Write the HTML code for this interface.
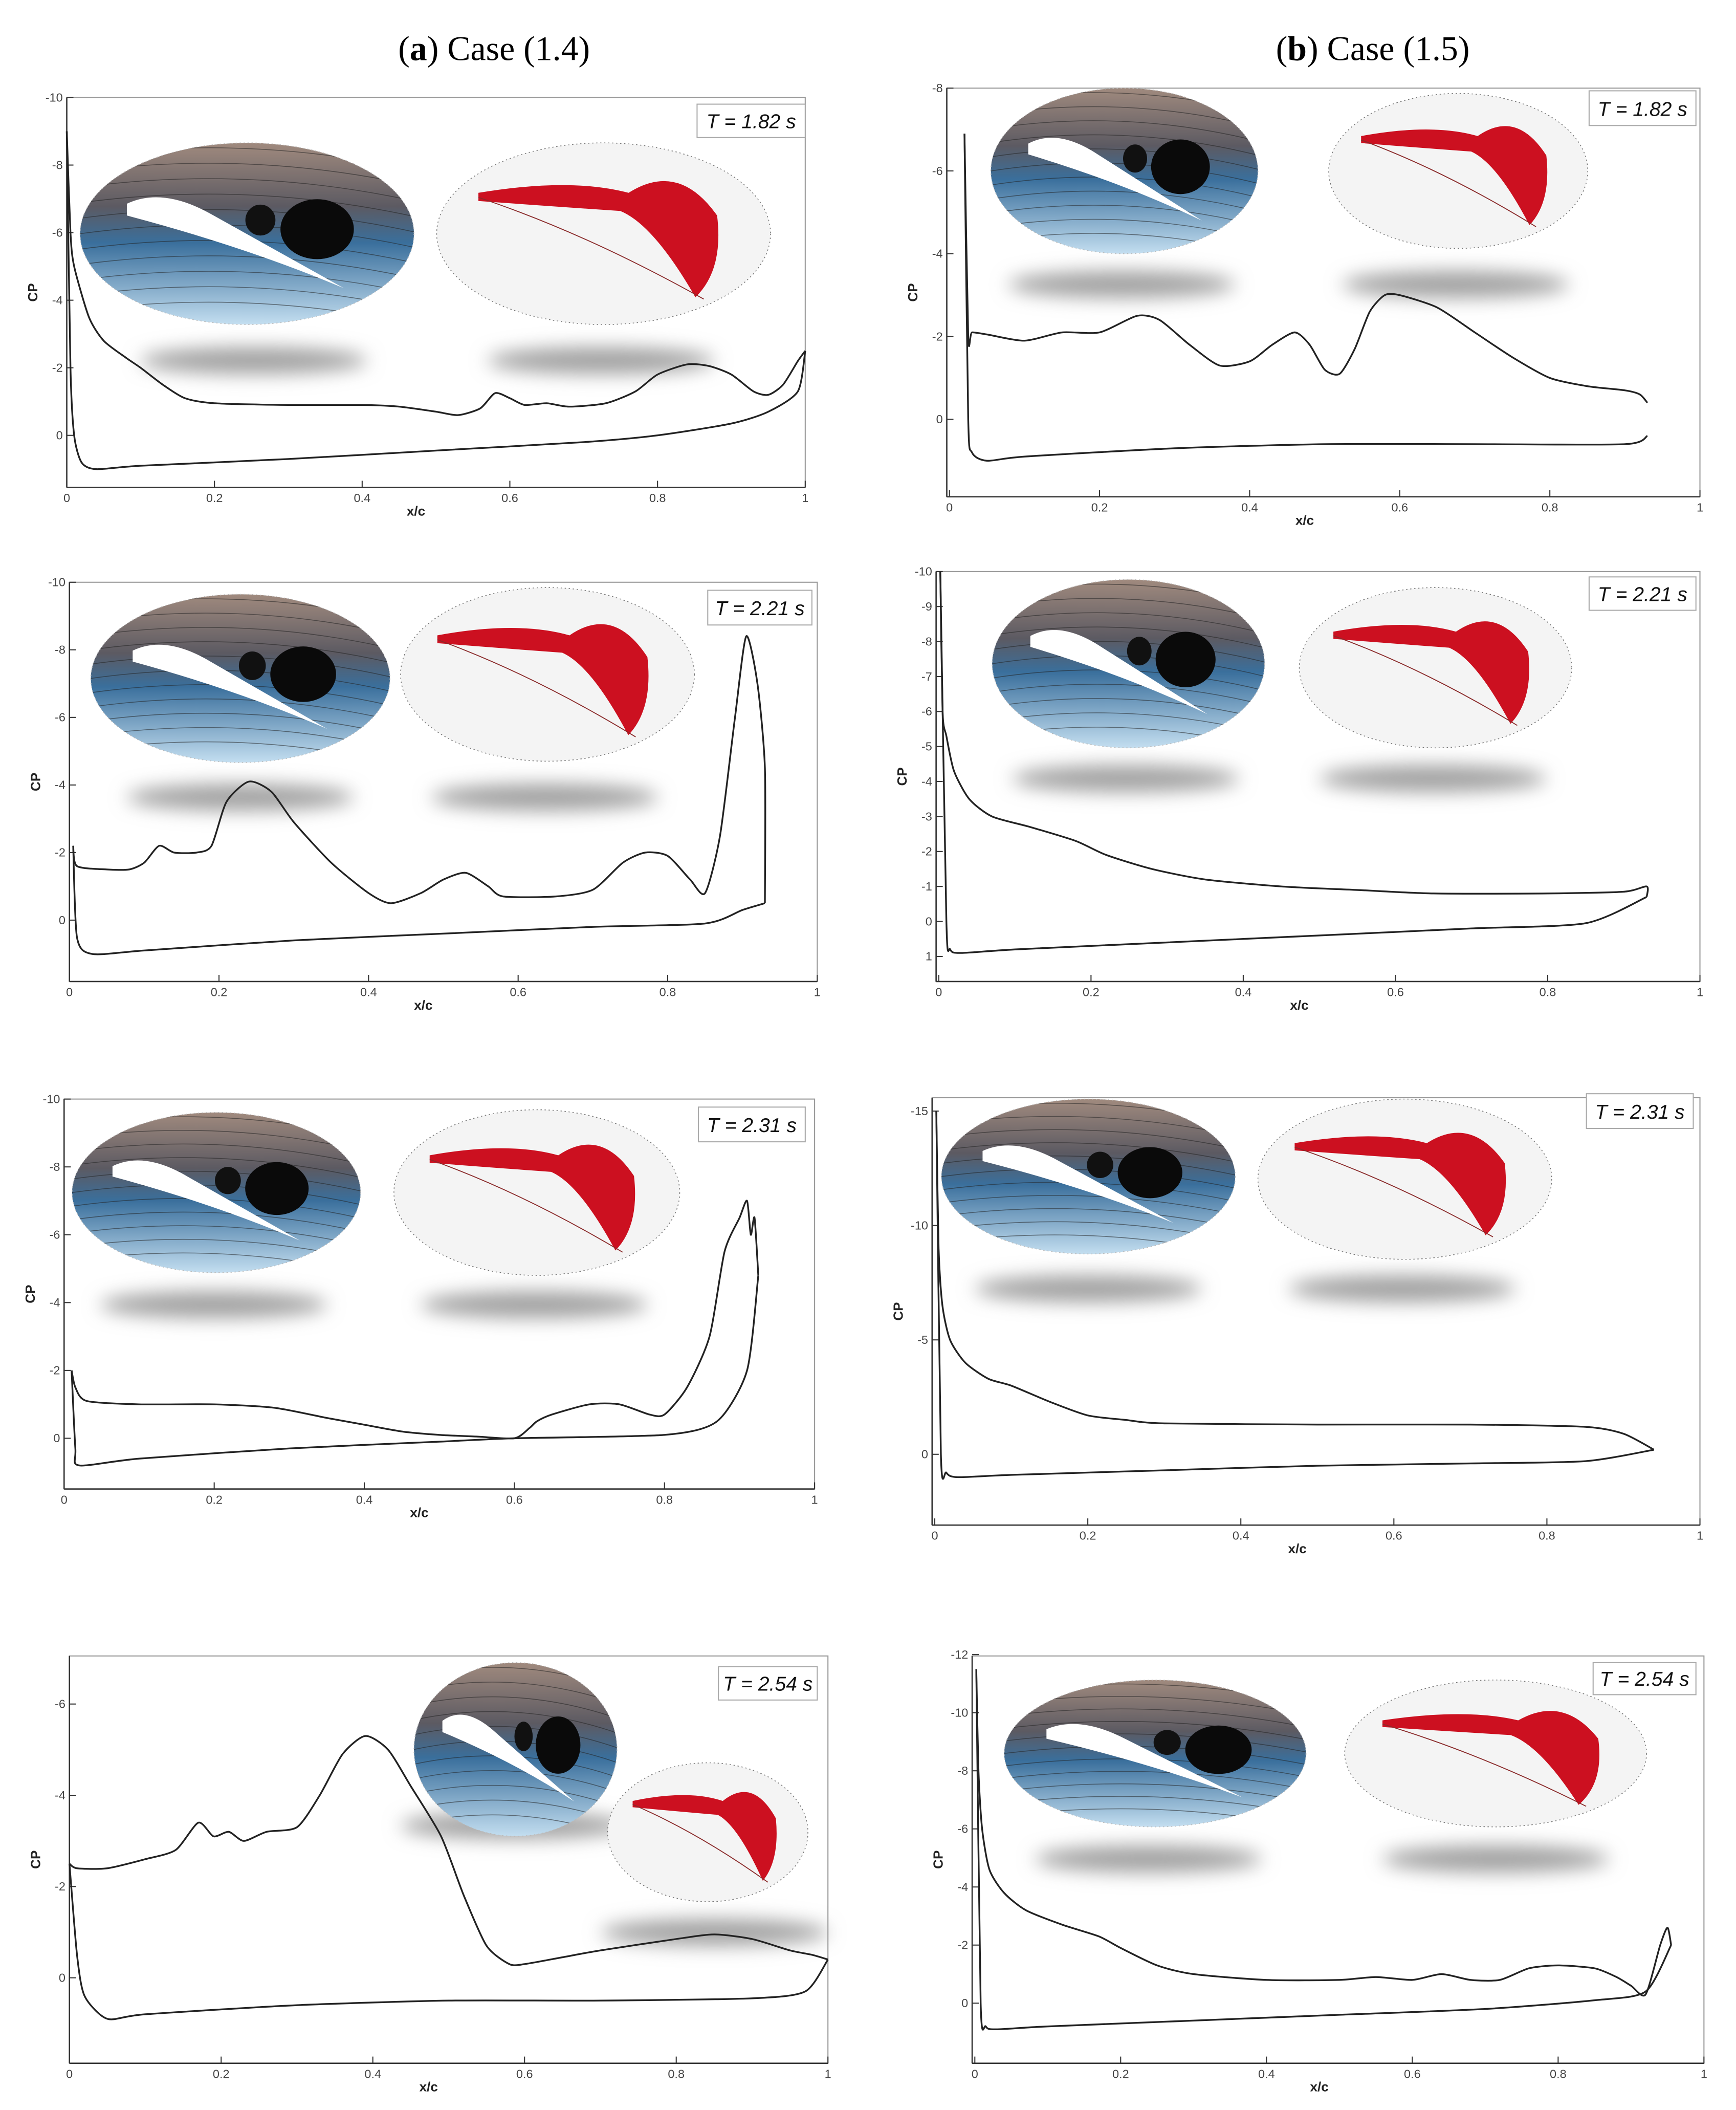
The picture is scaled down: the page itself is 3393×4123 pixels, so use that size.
<!DOCTYPE html>
<html><head><meta charset="utf-8"><style>
html,body{margin:0;padding:0;background:#fff;}
svg{display:block;}
text{font-family:"Liberation Sans",sans-serif;}
</style></head><body>
<svg id="fig" width="3393" height="4123" viewBox="0 0 1300 1580" preserveAspectRatio="none" xmlns="http://www.w3.org/2000/svg">
<defs>
<filter id="blur" x="-50%" y="-100%" width="200%" height="300%"><feGaussianBlur stdDeviation="7"/></filter>
<linearGradient id="flowGrad" x1="0" y1="0" x2="0" y2="1">
<stop offset="0" stop-color="#a08a7e"/><stop offset="0.35" stop-color="#5c5a62"/><stop offset="0.55" stop-color="#3a6f9c"/><stop offset="1" stop-color="#c3def0"/></linearGradient>
</defs>
<text x="370" y="45" font-size="26" text-anchor="middle" style="font-family:'Liberation Serif',serif">(<tspan font-weight="bold">a</tspan>) Case (1.4)</text>
<text x="1028" y="45" font-size="26" text-anchor="middle" style="font-family:'Liberation Serif',serif">(<tspan font-weight="bold">b</tspan>) Case (1.5)</text>
</svg>
<script>
// ---- data arrays: [x/c, Cp] ----
const a1Upper=[[0,-9],[0.005,-6],[0.01,-5],[0.03,-3.5],[0.05,-2.8],[0.08,-2.3],[0.1,-2.0],[0.13,-1.5],[0.16,-1.1],[0.2,-0.95],[0.3,-0.9],[0.4,-0.9],[0.45,-0.85],[0.5,-0.7],[0.53,-0.6],[0.56,-0.8],[0.58,-1.25],[0.6,-1.1],[0.62,-0.9],[0.65,-0.95],[0.68,-0.85],[0.73,-0.95],[0.77,-1.3],[0.8,-1.8],[0.84,-2.1],[0.87,-2.05],[0.9,-1.8],[0.93,-1.3],[0.95,-1.2],[0.97,-1.5],[0.99,-2.2],[1.0,-2.5]];
const a1Lower=[[0,-9],[0.005,-2],[0.01,0],[0.02,0.8],[0.04,1.0],[0.1,0.9],[0.3,0.7],[0.5,0.45],[0.7,0.2],[0.8,0],[0.9,-0.35],[0.95,-0.7],[0.99,-1.3],[1.0,-2.5]];
const b1Upper=[[0.02,-6.9],[0.025,-2.0],[0.03,-2.1],[0.05,-2.05],[0.1,-1.9],[0.15,-2.1],[0.2,-2.1],[0.25,-2.5],[0.28,-2.4],[0.32,-1.8],[0.36,-1.3],[0.4,-1.4],[0.43,-1.8],[0.46,-2.1],[0.48,-1.8],[0.5,-1.2],[0.52,-1.1],[0.54,-1.7],[0.56,-2.6],[0.58,-3.0],[0.6,-3.0],[0.65,-2.7],[0.7,-2.1],[0.75,-1.5],[0.8,-1.0],[0.85,-0.8],[0.9,-0.7],[0.92,-0.6],[0.93,-0.4]];
const b1Lower=[[0.02,-6.9],[0.025,0],[0.03,0.8],[0.05,1.0],[0.1,0.9],[0.3,0.7],[0.5,0.6],[0.7,0.6],[0.9,0.6],[0.93,0.4]];
const a2Upper=[[0.005,-2.2],[0.01,-1.6],[0.05,-1.5],[0.08,-1.5],[0.1,-1.7],[0.12,-2.2],[0.14,-2.0],[0.17,-2.0],[0.19,-2.2],[0.21,-3.5],[0.24,-4.1],[0.27,-3.8],[0.3,-2.9],[0.35,-1.7],[0.4,-0.8],[0.43,-0.5],[0.47,-0.8],[0.5,-1.2],[0.53,-1.4],[0.56,-1.0],[0.58,-0.7],[0.65,-0.7],[0.7,-0.9],[0.74,-1.7],[0.77,-2.0],[0.8,-1.9],[0.83,-1.2],[0.85,-0.8],[0.87,-2.5],[0.89,-6],[0.905,-8.4],[0.92,-7],[0.93,-4.5],[0.93,-0.5]];
const a2Lower=[[0.005,-2.2],[0.01,0.5],[0.03,1.0],[0.1,0.9],[0.3,0.6],[0.5,0.4],[0.7,0.2],[0.85,0.1],[0.9,-0.3],[0.93,-0.5]];
const b2Upper=[[0.002,-10],[0.005,-6],[0.01,-5.3],[0.02,-4.3],[0.04,-3.5],[0.07,-3.0],[0.12,-2.7],[0.18,-2.3],[0.22,-1.9],[0.28,-1.5],[0.35,-1.2],[0.45,-1.0],[0.55,-0.9],[0.65,-0.8],[0.8,-0.8],[0.9,-0.85],[0.93,-1.0],[0.93,-0.7]];
const b2Lower=[[0.002,-10],[0.01,0],[0.015,0.8],[0.03,0.9],[0.1,0.8],[0.3,0.6],[0.5,0.4],[0.7,0.2],[0.85,0.05],[0.93,-0.7]];
const a3Upper=[[0.01,-2.0],[0.015,-1.5],[0.03,-1.1],[0.1,-1.0],[0.2,-1.0],[0.28,-0.9],[0.35,-0.6],[0.4,-0.4],[0.45,-0.2],[0.5,-0.1],[0.55,-0.05],[0.6,0.0],[0.62,-0.3],[0.63,-0.5],[0.65,-0.7],[0.7,-1.0],[0.74,-1.0],[0.78,-0.7],[0.8,-0.7],[0.83,-1.5],[0.86,-3],[0.88,-5.5],[0.9,-6.5],[0.91,-7.0],[0.915,-6.0],[0.92,-6.5],[0.925,-4.8]];
const a3Lower=[[0.01,-2.0],[0.015,0.3],[0.02,0.8],[0.1,0.6],[0.3,0.3],[0.5,0.1],[0.6,0.0],[0.8,-0.1],[0.87,-0.5],[0.91,-2],[0.925,-4.8]];
const b3Upper=[[0.002,-15],[0.005,-9],[0.01,-6.5],[0.02,-5.0],[0.04,-4.0],[0.07,-3.3],[0.1,-3.0],[0.15,-2.3],[0.2,-1.7],[0.25,-1.5],[0.3,-1.35],[0.5,-1.3],[0.7,-1.3],[0.85,-1.2],[0.9,-0.9],[0.94,-0.2]];
const b3Lower=[[0.002,-15],[0.008,0],[0.015,0.8],[0.03,1.0],[0.1,0.9],[0.3,0.7],[0.5,0.5],[0.7,0.4],[0.85,0.3],[0.94,-0.2]];
const a4Upper=[[0.0,-2.5],[0.01,-2.4],[0.05,-2.4],[0.1,-2.6],[0.14,-2.8],[0.17,-3.4],[0.19,-3.1],[0.21,-3.2],[0.23,-3.0],[0.26,-3.2],[0.3,-3.3],[0.33,-4.0],[0.36,-4.9],[0.39,-5.3],[0.42,-5.0],[0.45,-4.2],[0.49,-3.1],[0.52,-1.8],[0.55,-0.7],[0.58,-0.3],[0.6,-0.3],[0.65,-0.45],[0.7,-0.6],[0.8,-0.85],[0.85,-0.95],[0.9,-0.85],[0.95,-0.6],[0.98,-0.5],[1.0,-0.4]];
const a4Lower=[[0.0,-2.5],[0.01,-0.5],[0.02,0.4],[0.05,0.9],[0.1,0.8],[0.3,0.6],[0.5,0.5],[0.7,0.5],[0.9,0.45],[0.97,0.3],[1.0,-0.4]];
const b4Upper=[[0.002,-11.5],[0.005,-8],[0.01,-6],[0.02,-4.6],[0.04,-3.8],[0.07,-3.2],[0.12,-2.7],[0.17,-2.3],[0.2,-1.9],[0.25,-1.3],[0.3,-1.0],[0.4,-0.8],[0.5,-0.8],[0.55,-0.9],[0.6,-0.8],[0.64,-1.0],[0.68,-0.8],[0.72,-0.8],[0.76,-1.2],[0.8,-1.3],[0.85,-1.2],[0.88,-0.9],[0.9,-0.6],[0.92,-0.3],[0.94,-2.0],[0.95,-2.6],[0.955,-2.0]];
const b4Lower=[[0.002,-11.5],[0.008,0],[0.015,0.8],[0.03,0.9],[0.1,0.8],[0.3,0.6],[0.5,0.4],[0.7,0.2],[0.85,-0.1],[0.92,-0.4],[0.955,-2.0]];
const xTicks=[0,0.2,0.4,0.6,0.8,1];
const yTicksA=[-10,-8,-6,-4,-2,0];
const yTicksB1=[-8,-6,-4,-2,0];
const yTicksB2=[-10,-9,-8,-7,-6,-5,-4,-3,-2,-1,0,1];
const yTicksB3=[-15,-10,-5,0];
const yTicksA4=[-6,-4,-2,0];
const yTicksB4=[-12,-10,-8,-6,-4,-2,0];
const timeLabels=["1.82","2.21","2.31","2.54"];

const NS="http://www.w3.org/2000/svg";
const svg=document.getElementById('fig');
function mk(tag,attrs,parent){const e=document.createElementNS(NS,tag);for(const k in attrs)e.setAttribute(k,attrs[k]);(parent||svg).appendChild(e);return e;}
function smooth(pts){
 let d='M'+pts[0][0].toFixed(2)+' '+pts[0][1].toFixed(2);
 const k=0.12;
 for(let i=0;i<pts.length-1;i++){
  const p0=pts[Math.max(i-1,0)],p1=pts[i],p2=pts[i+1],p3=pts[Math.min(i+2,pts.length-1)];
  const c1=[p1[0]+(p2[0]-p0[0])*k,p1[1]+(p2[1]-p0[1])*k];
  const c2=[p2[0]-(p3[0]-p1[0])*k,p2[1]-(p3[1]-p1[1])*k];
  d+=` C${c1[0].toFixed(2)} ${c1[1].toFixed(2)} ${c2[0].toFixed(2)} ${c2[1].toFixed(2)} ${p2[0].toFixed(2)} ${p2[1].toFixed(2)}`;
 }
 return d;
}

const panels=[
 {id:'a1',x0:50,x1:603,top:73,bot:365,ry0:326,ryU:-10,ryY:73,yt:yTicksA,up:a1Upper,lo:a1Lower,t:0,L:[185,175,125,68],R:[452,175,125,68],S1:[190,270],S2:[450,270],tb:[522,78,81,25]},
 {id:'b1',x0:711,x1:1273,top:66,bot:372,ry0:314,ryU:-8,ryY:66,yt:yTicksB1,up:b1Upper,lo:b1Lower,t:0,L:[842,128,100,62],R:[1092,128,97,58],S1:[840,213],S2:[1090,213],tb:[1190,68,80,26]},
 {id:'a2',x0:52,x1:612,top:436,bot:735,ry0:689,ryU:-10,ryY:436,yt:yTicksA,up:a2Upper,lo:a2Lower,t:1,L:[180,508,112,63],R:[410,505,110,65],S1:[180,597],S2:[408,597],tb:[530,442,78,26]},
 {id:'b2',x0:703,x1:1273,top:428,bot:735,ry0:690,ryU:-10,ryY:428,yt:yTicksB2,up:b2Upper,lo:b2Lower,t:1,L:[845,497,102,63],R:[1075,500,102,60],S1:[843,583],S2:[1073,583],tb:[1190,432,80,25]},
 {id:'a3',x0:48,x1:610,top:823,bot:1115,ry0:1077,ryU:-10,ryY:823,yt:yTicksA,up:a3Upper,lo:a3Lower,t:2,L:[162,893,108,60],R:[402,893,107,62],S1:[160,977],S2:[400,977],tb:[523,829,80,26]},
 {id:'b3',x0:700,x1:1273,top:822,bot:1142,ry0:1089,ryU:-15,ryY:832,yt:yTicksB3,up:b3Upper,lo:b3Lower,t:2,L:[815,881,110,58],R:[1052,883,110,60],S1:[815,965],S2:[1050,965],tb:[1188,819,80,26]},
 {id:'a4',x0:52,x1:620,top:1240,bot:1545,ry0:1481,ryU:-6,ryY:1276,yt:yTicksA4,up:a4Upper,lo:a4Lower,t:3,L:[386,1310,76,65],R:[530,1372,75,52],S1:[385,1367],S2:[535,1447],tb:[538,1248,74,25]},
 {id:'b4',x0:730,x1:1276,top:1240,bot:1545,ry0:1500,ryU:-12,ryY:1239,yt:yTicksB4,up:b4Upper,lo:b4Lower,t:3,L:[865,1313,113,55],R:[1120,1313,113,55],S1:[860,1392],S2:[1120,1392],tb:[1193,1245,77,24]}
];

panels.forEach(p=>{
 const g=mk('g',{});
 
 
 const fx=p.id[0]==='b'?Math.max(p.x0-2,0):p.x0;
 const X=v=>p.x0+v*(p.x1-p.x0);
 const Y=v=>p.ry0+(v/p.ryU)*(p.ryY-p.ry0);
 const fr=mk('rect',{x:fx,y:p.top,width:p.x1-fx,height:p.bot-p.top,fill:'none',stroke:'#999','stroke-width':0.8},g);
 
 
 mk('line',{x1:fx,y1:p.top,x2:fx,y2:p.bot,stroke:'#333','stroke-width':1},g);
 mk('line',{x1:fx,y1:p.bot,x2:p.x1,y2:p.bot,stroke:'#333','stroke-width':1},g);
 [p.S1,p.S2].forEach(s=>{
  const sh=mk('ellipse',{cx:s[0],cy:s[1],rx:85,ry:10,fill:'#a0a0a0',filter:'url(#blur)'},g);
  
  
 });
 const [lx,ly,lrx,lry]=p.L;
 const le=mk('ellipse',{cx:lx,cy:ly,rx:lrx,ry:lry,fill:'url(#flowGrad)',stroke:'#bbb','stroke-width':0.6,'stroke-dasharray':'1 2'},g);
 
 
 const cp=mk('clipPath',{id:'clip-'+p.id},g);
 mk('ellipse',{cx:lx,cy:ly,rx:lrx,ry:lry},cp);
 const lg=mk('g',{'clip-path':`url(#clip-${p.id})`},g);
 for(let i=-5;i<=5;i++){
  mk('path',{d:`M${lx-lrx} ${ly+i*lry*0.17} Q${lx} ${ly+i*lry*0.17-lry*0.25} ${lx+lrx} ${ly+i*lry*0.17+lry*0.15}`,stroke:'#222','stroke-width':0.6,fill:'none',opacity:0.55},lg);
 }
 mk('ellipse',{cx:lx+lrx*0.42,cy:ly-lry*0.05,rx:lrx*0.22,ry:lry*0.33,fill:'#0a0a0a'},lg);
 mk('ellipse',{cx:lx+lrx*0.08,cy:ly-lry*0.15,rx:lrx*0.09,ry:lry*0.17,fill:'#111'},lg);
 mk('path',{d:`M${lx-lrx*0.72} ${ly-lry*0.33} Q${lx-lrx*0.5} ${ly-lry*0.52} ${lx-lrx*0.2} ${ly-lry*0.2} L${lx+lrx*0.58} ${ly+lry*0.6} Q${lx} ${ly+lry*0.15} ${lx-lrx*0.72} ${ly-lry*0.2} Z`,fill:'#fff'},lg);
 const [rx,ry,rrx,rry]=p.R;
 const re=mk('ellipse',{cx:rx,cy:ry,rx:rrx,ry:rry,fill:'#f4f4f4',stroke:'#777','stroke-width':0.6,'stroke-dasharray':'1 2'},g);
 
 
 mk('path',{d:`M${rx-rrx*0.75} ${ry-rry*0.45} Q${rx-rrx*0.2} ${ry-rry*0.62} ${rx+rrx*0.15} ${ry-rry*0.45} Q${rx+rrx*0.45} ${ry-rry*0.8} ${rx+rrx*0.68} ${ry-rry*0.2} Q${rx+rrx*0.72} ${ry+rry*0.4} ${rx+rrx*0.55} ${ry+rry*0.7} Q${rx+rrx*0.3} ${ry-rry*0.1} ${rx+rrx*0.1} ${ry-rry*0.25} Q${rx-rrx*0.3} ${ry-rry*0.3} ${rx-rrx*0.75} ${ry-rry*0.36} Z`,fill:'#cc1020'},g);
 mk('path',{d:`M${rx-rrx*0.75} ${ry-rry*0.4} Q${rx-rrx*0.1} ${ry} ${rx+rrx*0.6} ${ry+rry*0.72}`,stroke:'#8a2a2a','stroke-width':0.7,fill:'none'},g);
 const [tx,ty,tw,th]=p.tb;
 const tr=mk('rect',{x:tx,y:ty,width:tw,height:th,fill:'#fff',stroke:'#aaa','stroke-width':0.8},g);
 
 
 const tt=mk('text',{x:tx+tw/2,y:ty+th*0.72,'font-size':15,'font-style':'italic','text-anchor':'middle',fill:'#111'},g);
 
 
 tt.textContent='T = '+timeLabels[p.t]+' s';
 xTicks.forEach(v=>{
  mk('line',{x1:X(v),y1:p.bot,x2:X(v),y2:p.bot-5,stroke:'#333','stroke-width':0.8},g);
  const t=mk('text',{x:X(v),y:p.bot+11,'font-size':9,'text-anchor':'middle',fill:'#444'},g);
  
  
  t.textContent=String(v);
 });
 p.yt.forEach(v=>{
  mk('line',{x1:fx,y1:Y(v),x2:fx+5,y2:Y(v),stroke:'#333','stroke-width':0.8},g);
  const t=mk('text',{x:fx-3,y:Y(v)+3,'font-size':9,'text-anchor':'end',fill:'#444'},g);
  
  
  t.textContent=String(v);
 });
 const xl=mk('text',{x:(p.x0+p.x1)/2-15,y:p.bot+21,'font-size':10,'font-weight':'bold','text-anchor':'middle',fill:'#222'},g);
 
 
 xl.textContent='x/c';
 const ymid=(p.top+p.bot)/2;
 const yl=mk('text',{x:fx-22,y:ymid,'font-size':10,'font-weight':'bold','text-anchor':'middle',fill:'#222',transform:`rotate(-90 ${fx-22} ${ymid})`},g);
 
 
 yl.textContent='CP';
 [['upper',p.up],['lower',p.lo]].forEach(([nm,arr])=>{
  const pts=arr.map(pt=>[X(pt[0]),Y(pt[1])]);
  const path=mk('path',{d:smooth(pts),fill:'none',stroke:'#222','stroke-width':1.3,'stroke-linejoin':'round'},g);
  
  
 });
});
</script>
</body></html>
